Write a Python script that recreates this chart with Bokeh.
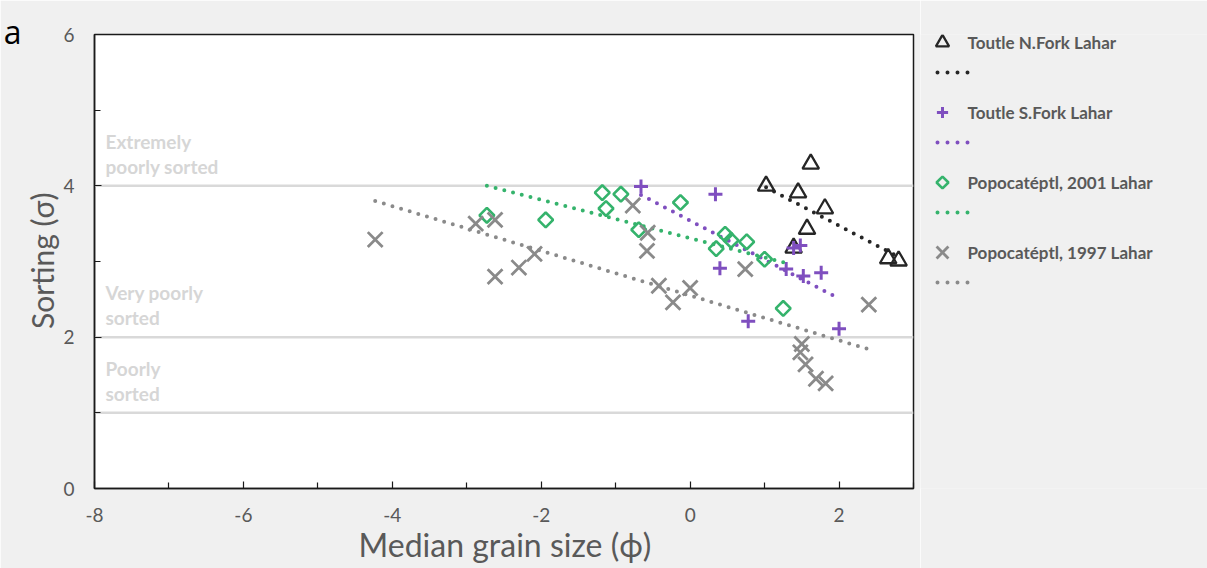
import numpy as np
from bokeh.plotting import figure
from bokeh.layouts import row
from bokeh.models import Range1d, FixedTicker, Span, Label, LinearAxis
from bokeh.core.properties import value
from bokeh.embed import file_html
from bokeh.resources import INLINE

# ---------------- data ----------------
series_names = ["Toutle N.Fork Lahar", "Toutle S.Fork Lahar",
                "Popocatéptl, 2001 Lahar", "Popocatéptl, 1997 Lahar"]

nfork_x = [1.02, 1.62, 1.45, 1.81, 1.57, 1.39, 2.66, 2.80]
nfork_y = [4.00, 4.29, 3.91, 3.70, 3.43, 3.18, 3.04, 3.01]

sfork_x = [-0.66, 0.34, 0.40, 0.78, 1.29, 1.39, 1.48, 1.52, 1.76, 2.00]
sfork_y = [3.99, 3.89, 2.91, 2.21, 2.90, 3.18, 3.21, 2.81, 2.85, 2.11]

p2001_x = [-2.73, -1.94, -1.18, -0.93, -1.13, -0.13, -0.69, 0.47, 0.55, 0.76, 0.35, 1.00, 1.25]
p2001_y = [3.61, 3.55, 3.91, 3.89, 3.70, 3.78, 3.42, 3.36, 3.28, 3.26, 3.17, 3.03, 2.38]

p1997_x = [-4.23, -2.88, -2.62, -2.62, -2.30, -2.09, -0.77, -0.57, -0.58, -0.42,
           -0.23, 0.00, 0.74, 2.40, 1.50, 1.48, 1.55, 1.69, 1.82]
p1997_y = [3.29, 3.50, 3.55, 2.80, 2.92, 3.10, 3.74, 3.38, 3.14, 2.68,
           2.46, 2.65, 2.90, 2.43, 1.91, 1.80, 1.64, 1.45, 1.39]

# linear trend lines (end points)
nfork_trend_x = [1.02, 2.80]
nfork_trend_y = [3.98, 3.06]
sfork_trend_x = [-0.66, 2.00]
sfork_trend_y = [3.88, 2.51]
p2001_trend_x = [-2.73, 1.25]
p2001_trend_y = [4.00, 2.99]
p1997_trend_x = [-4.23, 2.40]
p1997_trend_y = [3.80, 1.84]

x_ticks = [-8, -6, -4, -2, 0, 2]
x_minor = [-7, -5, -3, -1, 1, 3]
y_ticks = [0, 2, 4, 6]
y_minor = [1, 3, 5]

class_bounds = [4, 2, 1]
class_labels = ["Extremely\npoorly sorted", "Very poorly\nsorted", "Poorly\nsorted"]
panel_letter = "a"

# ---------------- style ----------------
FONT = "Lato"
BG = "#f0f0f0"
AXC = "#1a1a1a"
TXT = "#595959"
colors = ["#262626", "#7f4fbf", "#35b36c", "#8a8a8a"]
DOT = "0 9"

series = [
    (nfork_x, nfork_y, nfork_trend_x, nfork_trend_y,
     dict(marker="triangle", size=16.5, line_width=2.3)),
    (sfork_x, sfork_y, sfork_trend_x, sfork_trend_y,
     dict(marker="cross", size=14, line_width=3)),
    (p2001_x, p2001_y, p2001_trend_x, p2001_trend_y,
     dict(marker="square", size=10.5, angle=np.pi / 4, line_width=2.6)),
    (p1997_x, p1997_y, p1997_trend_x, p1997_trend_y,
     dict(marker="x", size=21, line_width=2.8)),
]

p = figure(width=920, height=568, x_range=Range1d(-8, 3), y_range=Range1d(0, 6),
           output_backend="svg", toolbar_location=None,
           min_border_left=93, min_border_right=7, min_border_top=34, min_border_bottom=80,
           background_fill_color="white", border_fill_color=BG,
           outline_line_color=AXC, outline_line_width=1.5)
p.grid.visible = False

p.xaxis.ticker = FixedTicker(ticks=x_ticks, minor_ticks=x_minor)
p.yaxis.ticker = FixedTicker(ticks=y_ticks, minor_ticks=y_minor)
p.xaxis.major_label_overrides = {t: str(t) for t in x_ticks}
p.yaxis.major_label_overrides = {t: str(t) for t in y_ticks}
for ax in (p.xaxis, p.yaxis):
    ax.axis_line_color = AXC
    ax.axis_line_width = 1.5
    ax.major_tick_in = 7
    ax.major_tick_out = 0
    ax.minor_tick_in = 6
    ax.minor_tick_out = 0
    ax.major_tick_line_color = AXC
    ax.minor_tick_line_color = AXC
    ax.major_tick_line_width = 1.2
    ax.minor_tick_line_width = 1.2
    ax.major_label_text_font = FONT
    ax.major_label_text_font_size = "19px"
    ax.major_label_text_color = TXT
    ax.axis_label_text_font = FONT
    ax.axis_label_text_font_style = "normal"
    ax.axis_label_text_color = TXT

p.xaxis.axis_label = "Median grain size (ϕ)"
p.yaxis.axis_label = "Sorting (σ)"
p.xaxis.axis_label_text_font_size = "32px"
p.yaxis.axis_label_text_font_size = "30px"
p.xaxis.major_label_standoff = 19
p.xaxis.axis_label_standoff = 0
p.yaxis.major_label_standoff = 20
p.yaxis.axis_label_standoff = 0

# panel letter "a" as the label of an outer, invisible axis at the top of the y scale
letter_axis = LinearAxis(ticker=FixedTicker(ticks=[y_ticks[-1]], minor_ticks=[]),
                         major_label_overrides={y_ticks[-1]: panel_letter + "\n\u00a0"},
                         axis_line_color=None, major_tick_line_color=None,
                         minor_tick_line_color=None, major_tick_out=0, major_tick_in=0,
                         major_label_standoff=0,
                         major_label_text_font="Open Sans", major_label_text_font_size="32px",
                         major_label_text_color="#000000",
                         major_label_text_line_height=1.0)
p.add_layout(letter_axis, "left")

for yb, lab in zip(class_bounds, class_labels):
    p.add_layout(Span(location=yb, dimension="width", line_color="#d9d9d9",
                      line_width=2.5, level="underlay"))
    p.add_layout(Label(x=-8, y=yb, text=lab, x_offset=11, y_offset=8,
                       text_baseline="bottom", text_align="left",
                       text_font=FONT, text_font_style="bold",
                       text_font_size="19px", text_color="#d6d6d6",
                       text_line_height=1.1))

for (sx, sy, tx, ty, mk), c in zip(series, colors):
    p.line(tx, ty, line_color=c, line_width=4, line_dash=DOT, line_cap="round")
    p.scatter(sx, sy, fill_color=None, line_color=c, **mk)

# ---------------- legend panel ----------------
# its frame is aligned with the main frame (canvas y 34..488), so map it 1:1 to pixels
lg = figure(width=287, height=568, x_range=Range1d(0, 287), y_range=Range1d(488, 34),
            output_backend="svg", toolbar_location=None, min_border=0,
            x_axis_type=None, y_axis_type=None,
            background_fill_color=BG, border_fill_color=BG, outline_line_color=None)
lg.grid.visible = False

ROW0, ROWSTEP, LINEOFF = 42, 70, 30
for i, (name, c, s) in enumerate(zip(series_names, colors, series)):
    ry = ROW0 + ROWSTEP * i
    mk = dict(s[4])
    mk["size"] = mk["size"] * 0.8
    lg.scatter([22], [ry], fill_color=None, line_color=c, **mk)
    lg.text([47], [ry], text=[name], text_baseline="middle", text_align="left",
            text_font=value(FONT), text_font_style="bold", text_font_size="17px",
            text_color=TXT)
    lg.line([17, 57], [ry + LINEOFF, ry + LINEOFF], line_color=c, line_width=4,
            line_dash="0 10", line_cap="round")

layout = row(p, lg)
open("out.html", "w").write(file_html(layout, INLINE))
